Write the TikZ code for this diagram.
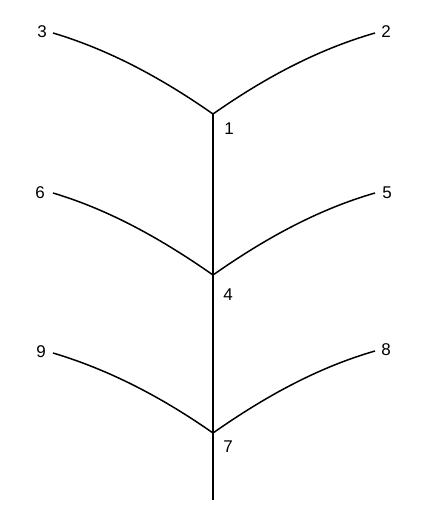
\documentclass[tikz,border=0pt]{standalone}
\usepackage{fontspec}
\setmainfont{Liberation Sans}
\begin{document}
\begin{tikzpicture}[x=1pt,y=-1pt,line width=1.5pt,
  num/.style={inner sep=0pt,font=\fontsize{17}{19}\selectfont}]
\useasboundingbox (0,0) rectangle (428,516);
\coordinate (j1) at (213,114);
\coordinate (j4) at (213,275);
\coordinate (j7) at (213,433);
\coordinate (bot) at (213,500);
\coordinate (e2) at (375,33);
\coordinate (e3) at (53,33);
\coordinate (e5) at (375,193);
\coordinate (e6) at (53,193);
\coordinate (e8) at (375,351);
\coordinate (e9) at (53,353);
\node[num] (n1) at (229,129) {1};
\node[num] (n2) at (386,32) {2};
\node[num] (n3) at (42,32) {3};
\node[num] (n4) at (228,295) {4};
\node[num] (n5) at (387,193) {5};
\node[num] (n6) at (40,193) {6};
\node[num] (n7) at (228,447) {7};
\node[num] (n8) at (386,350) {8};
\node[num] (n9) at (41,352) {9};
\draw (j1) -- (j4) -- (j7) -- (bot);
\draw (j1) .. controls +(-50,-35) and +(57,17) .. (e3);
\draw (j1) .. controls +(50,-35) and +(-59,17) .. (e2);
\draw (j4) .. controls +(-50,-35) and +(57,17) .. (e6);
\draw (j4) .. controls +(50,-35) and +(-59,17) .. (e5);
\draw (j7) .. controls +(-50,-35) and +(57,17) .. (e9);
\draw (j7) .. controls +(50,-35) and +(-59,17) .. (e8);
\end{tikzpicture}
\end{document}
